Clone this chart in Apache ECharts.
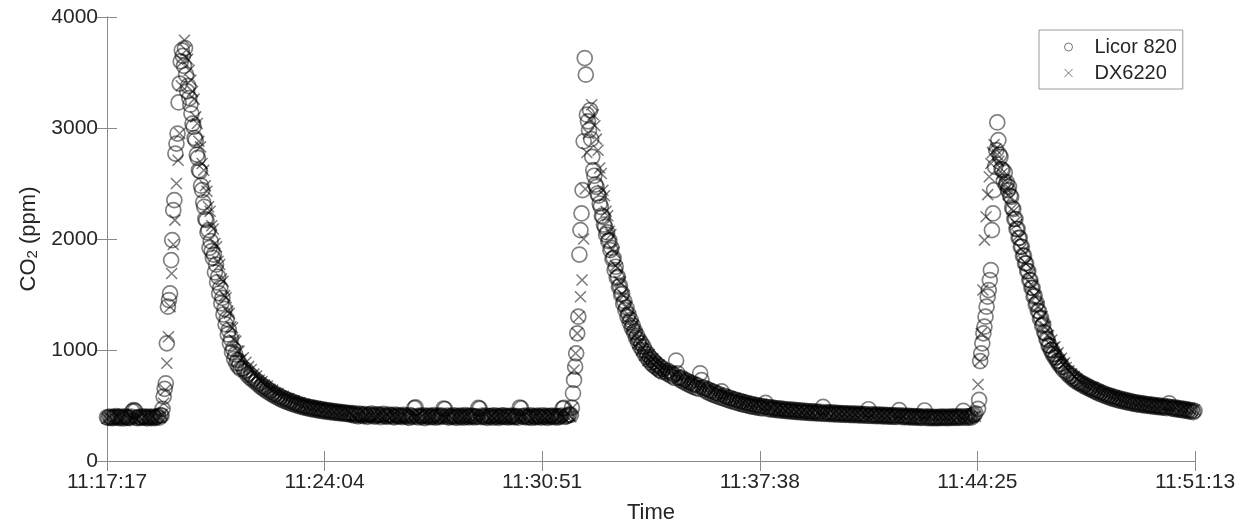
<!DOCTYPE html>
<html><head><meta charset="utf-8">
<script src="https://cdn.jsdelivr.net/npm/echarts@6/dist/echarts.min.js"></script>
<style>html,body{margin:0;padding:0;background:#fff;}#chart{width:1257px;height:531px;}</style>
</head><body><div id="chart"></div>
<script>
// x values: seconds after 11:17:17
const xTickLabels = ['11:17:17', '11:24:04', '11:30:51', '11:37:38', '11:44:25', '11:51:13'];
const xMax = 2036;
const yTicks = [0, 1000, 2000, 3000, 4000];

// Licor 820: segments of regular sampling (start s, step s)
const licorStarts = [0, 102, 255, 868, 1045, 1630, 1795];
const licorSteps = [2.5, 2, 2.5, 2, 2.5, 2, 2.5];
const licorSeg1 = [394, 388, 401, 391, 385, 397, 390, 404, 395, 386, 399, 392, 383, 396, 402, 389, 393, 387, 400, 447, 458, 452, 391, 385, 398, 394, 388, 403, 390, 396, 384, 399, 393, 387, 401, 392, 386, 397, 404, 390, 412];
const licorSeg2 = [410, 470, 580, 650, 700, 1060, 1390, 1450, 1510, 1810, 1990, 2260, 2350, 2770, 2860, 2950, 3230, 3400, 3600, 3700, 3650, 3560, 3720, 3480, 3330, 3380, 3270, 3210, 3130, 3040, 3010, 2910, 2890, 2760, 2730, 2620, 2610, 2480, 2440, 2330, 2290, 2180, 2170, 2060, 2080, 1920, 1980, 1890, 1830, 1860, 1700, 1770, 1610, 1660, 1510, 1560, 1420, 1470, 1320, 1370, 1230, 1280, 1140, 1180, 1060, 1100, 980, 1010, 920, 960, 880, 910, 850, 880, 830];
const licorSeg3 = [835, 808, 820, 776, 790, 752, 770, 731, 745, 712, 725, 690, 703, 668, 684, 652, 668, 635, 650, 618, 634, 602, 617, 590, 603, 575, 590, 562, 578, 551, 566, 540, 556, 531, 546, 522, 537, 513, 528, 505, 519, 498, 511, 490, 504, 484, 497, 478, 491, 472, 486, 467, 481, 462, 476, 458, 471, 454, 467, 450, 463, 447, 459, 443, 456, 440, 452, 437, 449, 434, 446, 431, 443, 429, 440, 426, 437, 424, 434, 421, 431,
  418, 431, 409, 424, 415, 402, 427, 412, 420, 405, 423, 410, 398, 419, 413, 426, 404, 415, 400, 421,
  408, 417, 396, 412, 424, 403, 410, 398, 419, 406, 414, 401, 393, 418, 407, 399, 412, 404, 395, 416,
  403, 410, 397, 389, 414, 405, 398, 476, 483, 401, 392, 409, 404, 396, 412, 387, 403, 399, 410, 394,
  405, 398, 413, 390, 401, 407, 395, 411, 402, 473, 468, 397, 408, 391, 403, 399, 412, 394, 406, 388,
  401, 409, 396, 404, 390, 413, 398, 405, 393, 410, 399, 407, 392, 403, 397, 479, 471, 395, 408, 401,
  394, 410, 388, 403, 399, 406, 391, 412, 397, 404, 389, 401, 408, 395, 411, 398, 403, 392, 407, 396,
  402, 410, 393, 399, 405, 390, 482, 474, 404, 397, 408, 392, 401, 396, 411, 389, 405, 399, 393, 409,
  397, 403, 390, 412, 400, 395, 407, 388, 404, 398, 410, 394, 401, 406, 391, 403, 397, 409, 472, 478,
  398, 405, 411, 420];
const licorSeg4 = [415, 480, 610, 730, 850, 970, 1150, 1300, 1860, 2080, 2230, 2440, 2880, 3630, 3480, 3120, 3060, 2980, 3160, 2900, 2740, 2620, 2570, 2490, 2470, 2410, 2390, 2320, 2290, 2210, 2200, 2130, 2110, 2040, 2060, 1980, 1990, 1900, 1920, 1820, 1830, 1720, 1750, 1650, 1660, 1570, 1580, 1500, 1510, 1420, 1440, 1360, 1380, 1300, 1320, 1250, 1270, 1200, 1220, 1160, 1170, 1110, 1130, 1070, 1090, 1030, 1060, 1000, 1030, 965, 990, 935, 960, 910, 935, 885, 915, 865, 895, 850, 875, 835, 860, 820, 845, 805, 830];
const licorSeg5 = [805, 790, 812, 776, 795, 762, 780, 748, 905, 790, 752, 731, 748, 716, 735, 703, 722, 690, 711, 679,
  700, 668, 690, 659, 681, 649, 790, 728, 662, 640, 655, 624, 643, 612, 633, 601, 622, 591, 612, 582,
  603, 574, 628, 566, 587, 557, 578, 549, 570, 541, 561, 534, 554, 527, 546, 520, 539, 513, 532, 507,
  526, 501, 519, 495, 514, 490, 508, 486, 503, 481, 499, 477, 494, 474, 490, 523, 486, 468, 483, 465,
  480, 462, 477, 459, 474, 457, 471, 454, 469, 452, 466, 449, 464, 447, 462, 445, 460, 443, 458, 441,
  456, 439, 454, 437, 452, 435, 450, 434, 448, 432, 447, 431, 445, 429, 443, 428, 442, 427, 488, 425,
  439, 424, 438, 423, 436, 421, 435, 420, 434, 419, 432, 418, 431, 417, 430, 416, 429, 415, 428, 414,
  427, 413, 426, 412, 425, 411, 424, 410, 423, 409, 422, 408, 466, 407, 420, 406, 419, 405, 418, 404,
  417, 403, 416, 402, 415, 401, 414, 400, 413, 399, 412, 398, 411, 397, 410, 458, 409, 396, 408, 395,
  407, 394, 406, 393, 405, 392, 404, 391, 403, 390, 402, 389, 401, 388, 455, 400, 387, 399, 386, 398,
  386, 397, 385, 396, 386, 398, 387, 399, 388, 397, 386, 398, 387, 400, 388, 399, 389, 401, 388, 400,
  389, 402, 390, 452, 401, 388, 403, 390, 404, 392, 408, 418, 430];
const licorSeg6 = [470, 550, 900, 970, 1060, 1150, 1210, 1300, 1390, 1480, 1540, 1630, 1720, 2080, 2230, 2440, 2650, 2800, 3050, 2890, 2760, 2740, 2630, 2620, 2520, 2600, 2490, 2510, 2440, 2470, 2390, 2380, 2280, 2270, 2180, 2180, 2090, 2090, 2010, 2010, 1930, 1930, 1850, 1850, 1780, 1780, 1710, 1710, 1630, 1630, 1560, 1560, 1480, 1490, 1410, 1420, 1350, 1350, 1280, 1290, 1220, 1230, 1160, 1150, 1100, 1090, 1040, 1040, 1000, 1000, 960, 965, 930, 935, 900, 905, 870, 875, 845, 850, 820];
const licorSeg7 = [805, 782, 790, 760, 768, 738, 748, 720, 731, 705, 712, 690, 700, 676, 688, 664, 674, 652, 662, 641,
  650, 628, 640, 617, 630, 606, 619, 595, 609, 586, 599, 577, 591, 569, 584, 561, 576, 554, 569, 547,
  562, 541, 556, 535, 550, 530, 545, 525, 540, 520, 534, 515, 529, 511, 525, 507, 521, 503, 517, 500,
  513, 497, 510, 494, 507, 491, 504, 488, 501, 486, 498, 483, 495, 480, 492, 477, 489, 520, 486, 472,
  483, 468, 480, 465, 477, 461, 473, 457, 469, 453, 465, 449, 461, 445, 457, 441, 452];

// DX6220
const dxStarts = [0, 100, 255, 868, 1045, 1630, 1795];
const dxSteps = [5, 3, 5, 3, 5, 3, 5];
const dxSeg1 = [384, 391, 379, 388, 395, 382, 386, 390, 381, 387, 393, 383, 389, 380, 392, 385, 378, 390, 386, 394];
const dxSeg2 = [392, 420, 520, 640, 880, 1120, 1390, 1690, 1950, 2170, 2500, 2710, 2950, 3380, 3600, 3790, 3700, 3620, 3520, 3430, 3330, 3260, 3100, 3040, 2880, 2830, 2680, 2620, 2480, 2430, 2290, 2250, 2120, 2090, 1960, 1930, 1800, 1770, 1640, 1620, 1490, 1470, 1350, 1330, 1210, 1200, 1090, 1080, 990, 990, 910];
const dxSeg3 = [930, 890, 850, 825, 783, 765, 730, 715, 685, 675, 647, 639, 615, 609, 587, 584, 565, 562, 545, 544, 523, 524, 507, 510, 494, 498, 483, 488, 474, 480, 462, 468, 455, 461, 449, 455, 443, 449, 438, 444, 434,
  402, 395, 408, 399, 391, 404, 397, 410, 393, 400, 406, 389, 398, 403, 394, 409, 396, 401, 390, 405, 398, 392, 407, 395, 400, 388, 403, 397, 409, 393, 399, 404, 390, 396, 402, 394, 408, 391, 400, 397, 405, 389, 398, 403, 392, 400, 396, 407, 394, 401, 405, 391, 399, 386, 404, 395, 402, 390, 408, 397, 393, 401, 388, 406, 398, 394, 403, 390, 399, 405, 392, 400, 387, 404, 396, 402, 391, 398, 406, 393, 401, 408];
const dxSeg4 = [398, 480, 820, 970, 1150, 1300, 1480, 1630, 2000, 2450, 2780, 2950, 3080, 3210, 3120, 3020, 2900, 2800, 2640, 2590, 2440, 2390, 2250, 2210, 2070, 2040, 1910, 1880, 1760, 1740, 1620, 1610, 1500, 1490, 1390, 1390, 1290, 1300, 1210, 1220, 1130, 1140, 1060, 1080, 1000, 1020, 950, 970, 905, 960, 895, 920, 865, 890, 835, 865, 810, 840, 790];
const dxSeg5 = [820, 808, 809, 777, 780, 748, 752, 722, 728, 702, 709, 682, 689, 662, 670, 644, 651, 626, 634, 610,
  614, 590, 598, 574, 580, 556, 563, 541, 550, 528, 536, 514, 524, 505, 517, 498, 510, 491, 503, 484,
  480, 462, 476, 458, 472, 454, 468, 450, 464, 446, 460, 442, 458, 440, 456, 438, 454, 436, 452, 434,
  450, 432, 448, 430, 446, 428, 444, 426, 440, 424, 437, 421, 435, 419, 433, 417, 431, 415, 429, 414,
  427, 412, 425, 410, 423, 409, 421, 408, 420, 407, 418, 405, 417, 404, 415, 403, 414, 402, 413, 401,
  411, 399, 410, 398, 409, 397, 408, 396, 407, 395, 405, 394, 404, 393, 400, 395, 402];
const dxSeg6 = [690, 900, 1150, 1540, 1990, 2200, 2400, 2560, 2680, 2780, 2850, 2810, 2760, 2700, 2640, 2590, 2540, 2490, 2450, 2400, 2370, 2270, 2250, 2150, 2130, 2030, 2010, 1910, 1890, 1790, 1780, 1690, 1680, 1590, 1580, 1490, 1480, 1390, 1390, 1300, 1300, 1210, 1210, 1130, 1130, 1050, 1090, 1020, 1030, 960, 975, 910, 925, 870, 885];
const dxSeg7 = [843, 813, 785, 761, 739, 717, 703, 687, 679, 662, 665, 643, 637, 619, 617, 601, 599, 585, 587, 573,
  568, 555, 557, 544, 547, 534, 539, 526, 531, 519, 523, 512, 517, 506, 511, 500, 506, 495, 501, 490,
  495, 480, 488, 473, 480, 465, 472, 458, 462];

function build(starts, steps, segs) {
  const out = [];
  segs.forEach((seg, k) => seg.forEach((v, i) => out.push([starts[k] + i * steps[k], v])));
  return out;
}
const licorData = build(licorStarts, licorSteps, [licorSeg1, licorSeg2, licorSeg3, licorSeg4, licorSeg5, licorSeg6, licorSeg7]);
const dxData = build(dxStarts, dxSteps, [dxSeg1, dxSeg2, dxSeg3, dxSeg4, dxSeg5, dxSeg6, dxSeg7]);

const FONT = 'Liberation Sans, Arial, Helvetica, sans-serif';
const xPath = 'path://M0,0L10,10M10,0L0,10';
const axisGray = '#8a8a8a';
const textCol = '#262626';

const chart = echarts.init(document.getElementById('chart'), null, {renderer: 'canvas'});
const xInterval = xMax / (xTickLabels.length - 1);
const baseX = {
  type: 'value', min: 0, max: xMax, interval: xInterval,
  axisLine: {show: true, lineStyle: {color: axisGray, width: 1}},
  axisTick: {show: true, inside: true, length: 10, lineStyle: {color: axisGray}},
  splitLine: {show: false}
};
const baseY = {
  type: 'value', min: yTicks[0], max: yTicks[yTicks.length - 1], interval: yTicks[1] - yTicks[0],
  axisLine: {show: true, lineStyle: {color: axisGray, width: 1}},
  axisTick: {show: true, inside: true, length: 10, lineStyle: {color: axisGray}},
  splitLine: {show: false}
};
chart.setOption({
  animation: false,
  backgroundColor: '#fff',
  textStyle: {fontFamily: FONT},
  grid: {left: 107, right: 62, top: 17, bottom: 70, containLabel: false},
  xAxis: [
    Object.assign({}, baseX, {
      position: 'bottom',
      name: 'Time', nameLocation: 'middle', nameGap: 41,
      nameTextStyle: {fontSize: 22, color: textCol, fontFamily: FONT},
      axisLabel: {show: true, fontSize: 21, color: textCol, margin: 11, fontFamily: FONT,
        formatter: (v, i) => xTickLabels[i] !== undefined ? xTickLabels[i] : ''}
    }),
    Object.assign({}, baseX, {position: 'top', axisLabel: {show: false}})
  ],
  yAxis: [
    Object.assign({}, baseY, {
      position: 'left',
      name: '{a|CO}{sub|2}{a| (ppm)}', nameLocation: 'middle', nameGap: 67,
      nameTextStyle: {fontSize: 22, color: textCol, fontFamily: FONT,
        rich: {
          a: {fontSize: 22, color: textCol, fontFamily: FONT, lineHeight: 22, verticalAlign: 'top'},
          sub: {fontSize: 15, color: textCol, fontFamily: FONT, lineHeight: 15, verticalAlign: 'bottom', padding: [11, 0, 0, 0]}
        }},
      axisLabel: {show: true, fontSize: 21, color: textCol, margin: 9, fontFamily: FONT,
        formatter: v => String(v)}
    }),
    Object.assign({}, baseY, {position: 'right', axisLabel: {show: false}})
  ],
  legend: {
    orient: 'vertical', left: 1039, top: 30,
    padding: [7, 6, 6, 25], itemGap: 6,
    itemWidth: 42, itemHeight: 8,
    borderColor: '#9a9a9a', borderWidth: 1, backgroundColor: '#fff',
    textStyle: {fontSize: 20, color: textCol, fontFamily: FONT},
    selectedMode: false,
    data: [
      {name: 'Licor 820', icon: 'circle', itemStyle: {color: 'rgba(0,0,0,0)', borderColor: '#555', borderWidth: 1}},
      {name: 'DX6220', icon: xPath, itemStyle: {color: 'rgba(0,0,0,0)', borderColor: '#555', borderWidth: 1}}
    ]
  },
  series: [
    {
      name: 'Licor 820', type: 'scatter', data: licorData,
      symbol: 'circle', symbolSize: 15,
      itemStyle: {color: 'rgba(0,0,0,0)', borderColor: 'rgba(0,0,0,0.62)', borderWidth: 1.7},
      emphasis: {disabled: true}, silent: true
    },
    {
      name: 'DX6220', type: 'scatter', data: dxData,
      symbol: xPath, symbolSize: 11,
      itemStyle: {color: 'rgba(0,0,0,0)', borderColor: 'rgba(0,0,0,0.65)', borderWidth: 1.5},
      emphasis: {disabled: true}, silent: true
    }
  ]
});
</script></body></html>
